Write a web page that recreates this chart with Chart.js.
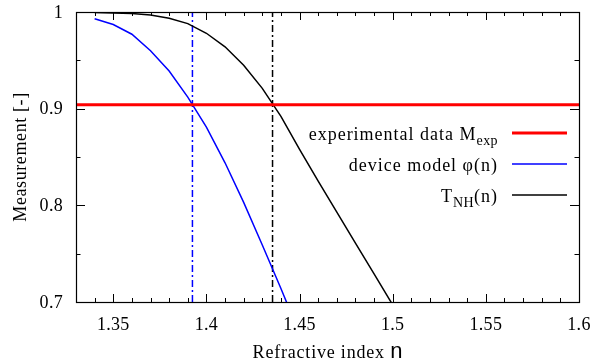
<!DOCTYPE html>
<html>
<head>
<meta charset="utf-8">
<script src="https://cdn.jsdelivr.net/npm/chart.js@4.4.1/dist/chart.umd.min.js"></script>
<style>
  html, body { margin: 0; padding: 0; background: #fff; }
  canvas { display: block; }
</style>
</head>
<body>
<canvas id="grafico" width="595" height="364"></canvas>
<script>
// datos
const nPhi = [1.34, 1.35, 1.36, 1.37, 1.38, 1.39, 1.40, 1.41, 1.42, 1.43, 1.44, 1.45];
const phiValues = [0.993, 0.987, 0.977, 0.960, 0.939, 0.912, 0.881, 0.844, 0.803, 0.759, 0.714, 0.667];

const nT = [1.34, 1.35, 1.36, 1.37, 1.38, 1.39, 1.40, 1.41, 1.42, 1.43, 1.44, 1.45, 1.46, 1.47, 1.48, 1.49, 1.50];
const tValues = [0.9995, 0.999, 0.9985, 0.997, 0.9935, 0.988, 0.978, 0.964, 0.945, 0.921, 0.892, 0.858, 0.825, 0.793, 0.761, 0.729, 0.697];

const mExp = 0.904;       // experimental data M_exp
const nCrossPhi = 1.3925; // phi(n) = M_exp
const nCrossT = 1.4355;   // T_NH(n) = M_exp

const xMin = 1.33, xMax = 1.6;
const yMin = 0.7, yMax = 1.0;

const xTicks = [1.35, 1.4, 1.45, 1.5, 1.55, 1.6];
const xTickLabels = ['1.35', '1.4', '1.45', '1.5', '1.55', '1.6'];
const yTicks = [0.7, 0.8, 0.9, 1.0];
const yTickLabels = ['0.7', '0.8', '0.9', '1'];

// leyenda: partes de texto (sub = subindice)
const legendRows = [
  { parts: [{ t: 'experimental data M' }, { t: 'exp', sub: true }], color: '#ff0000', width: 3 },
  { parts: [{ t: 'device model φ(n)' }], color: '#0000ff', width: 1.5 },
  { parts: [{ t: 'T' }, { t: 'NH', sub: true }, { t: '(n)' }], color: '#000000', width: 1.5 }
];

const serif = '"Liberation Serif", "Times New Roman", serif';

function pts(xs, ys) {
  return xs.map((x, i) => ({ x: x, y: ys[i] }));
}

function setFont(ctx, font, spacing) {
  ctx.font = font;
  ctx.letterSpacing = spacing || '0px';
}

// Plugin para marco, ticks hacia dentro, etiquetas y leyenda (estilo gnuplot)
const estiloGnuplot = {
  id: 'estiloGnuplot',
  afterDraw(chart) {
    const ctx = chart.ctx;
    const a = chart.chartArea;
    const xs = chart.scales.x;
    const ys = chart.scales.y;

    ctx.save();
    ctx.strokeStyle = '#000';
    ctx.lineWidth = 1;

    // ticks menores y mayores
    ctx.beginPath();
    for (let k = 0; k <= 27; k++) {
      const v = xMin + k * 0.01;
      const px = Math.round(xs.getPixelForValue(v)) + 0.5;
      const major = xTicks.some(t => Math.abs(t - v) < 1e-6);
      const len = major ? 8 : 4;
      ctx.moveTo(px, a.bottom); ctx.lineTo(px, a.bottom - len);
      ctx.moveTo(px, a.top); ctx.lineTo(px, a.top + len);
    }
    for (let k = 0; k <= 6; k++) {
      const v = yMin + k * 0.05;
      const py = Math.round(ys.getPixelForValue(v)) + 0.5;
      const major = yTicks.some(t => Math.abs(t - v) < 1e-6);
      const len = major ? 9 : 4.5;
      ctx.moveTo(a.left, py); ctx.lineTo(a.left + len, py);
      ctx.moveTo(a.right, py); ctx.lineTo(a.right - len, py);
    }
    ctx.stroke();

    // marco
    ctx.lineWidth = 1.2;
    ctx.strokeRect(Math.round(a.left) + 0.5, Math.round(a.top) + 0.5,
      Math.round(a.right - a.left), Math.round(a.bottom - a.top));

    // etiquetas de ticks
    ctx.fillStyle = '#000';
    setFont(ctx, '18px ' + serif, '0.3px');
    ctx.textAlign = 'center';
    ctx.textBaseline = 'alphabetic';
    xTicks.forEach((v, i) => {
      ctx.fillText(xTickLabels[i], xs.getPixelForValue(v), 330);
    });
    ctx.textAlign = 'right';
    ctx.textBaseline = 'middle';
    yTicks.forEach((v, i) => {
      ctx.fillText(yTickLabels[i], 63, ys.getPixelForValue(v) + 1);
    });

    // titulo eje x
    ctx.textBaseline = 'alphabetic';
    ctx.textAlign = 'left';
    const t1 = 'Refractive index ';
    const fSerif = '18px ' + serif;
    const fSans = '22px "Liberation Sans Narrow", "Liberation Sans", sans-serif';
    setFont(ctx, fSerif, '0.8px');
    const w1 = ctx.measureText(t1).width;
    setFont(ctx, fSans, '0px');
    const w2 = ctx.measureText('n').width;
    const cx = (a.left + a.right) / 2;
    const x0 = cx - (w1 + w2) / 2;
    setFont(ctx, fSerif, '0.8px');
    ctx.fillText(t1, x0, 358);
    setFont(ctx, fSans, '0px');
    ctx.fillText('n', x0 + w1, 358);

    // titulo eje y
    ctx.save();
    ctx.translate(25.5, (a.top + a.bottom) / 2);
    ctx.rotate(-Math.PI / 2);
    setFont(ctx, '18px ' + serif, '0.6px');
    ctx.textAlign = 'center';
    ctx.fillText('Measurement [-]', 0, 0);
    ctx.restore();

    // leyenda
    const textRight = 498;
    const lineX1 = 512, lineX2 = 567;
    const fMain = '18px ' + serif;
    const fSub = '14px ' + serif;
    legendRows.forEach((row, i) => {
      const ly = 133 + i * 31;
      let total = 0;
      row.parts.forEach(p => {
        setFont(ctx, p.sub ? fSub : fMain, p.sub ? '0.4px' : '1px');
        total += ctx.measureText(p.t).width;
      });
      let x = textRight - total;
      ctx.textAlign = 'left';
      row.parts.forEach(p => {
        setFont(ctx, p.sub ? fSub : fMain, p.sub ? '0.4px' : '1px');
        ctx.fillText(p.t, x, ly + 7 + (p.sub ? 5 : 0));
        x += ctx.measureText(p.t).width;
      });
      ctx.strokeStyle = row.color;
      ctx.lineWidth = row.width;
      ctx.beginPath();
      ctx.moveTo(lineX1, ly); ctx.lineTo(lineX2, ly);
      ctx.stroke();
    });

    ctx.restore();
  }
};

const ctx = document.getElementById('grafico').getContext('2d');
new Chart(ctx, {
  type: 'scatter',
  data: {
    datasets: [
      {
        label: 'T_NH(n)',
        data: pts(nT, tValues),
        showLine: true,
        borderColor: '#000000',
        borderWidth: 1.5,
        pointRadius: 0,
        clip: 0,
        order: 3
      },
      {
        label: 'device model phi(n)',
        data: pts(nPhi, phiValues),
        showLine: true,
        borderColor: '#0000ff',
        borderWidth: 1.5,
        pointRadius: 0,
        clip: 0,
        order: 2
      },
      {
        label: 'cruce phi',
        data: [{ x: nCrossPhi, y: yMin }, { x: nCrossPhi, y: yMax }],
        showLine: true,
        borderColor: '#0000ff',
        borderWidth: 1.5,
        borderDash: [7, 3, 2, 3],
        pointRadius: 0,
        clip: 0,
        order: 4
      },
      {
        label: 'cruce T',
        data: [{ x: nCrossT, y: yMin }, { x: nCrossT, y: yMax }],
        showLine: true,
        borderColor: '#000000',
        borderWidth: 1.5,
        borderDash: [7, 3, 2, 3],
        pointRadius: 0,
        clip: 0,
        order: 5
      },
      {
        label: 'experimental data M_exp',
        data: [{ x: xMin, y: mExp }, { x: xMax, y: mExp }],
        showLine: true,
        borderColor: '#ff0000',
        borderWidth: 3,
        pointRadius: 0,
        clip: 0,
        order: 1
      }
    ]
  },
  options: {
    responsive: false,
    animation: false,
    layout: {
      padding: { left: 76, right: 16, top: 12, bottom: 62 }
    },
    plugins: {
      legend: { display: false },
      tooltip: { enabled: false }
    },
    scales: {
      x: { type: 'linear', min: xMin, max: xMax, display: false },
      y: { type: 'linear', min: yMin, max: yMax, display: false }
    }
  },
  plugins: [estiloGnuplot]
});
</script>
</body>
</html>
